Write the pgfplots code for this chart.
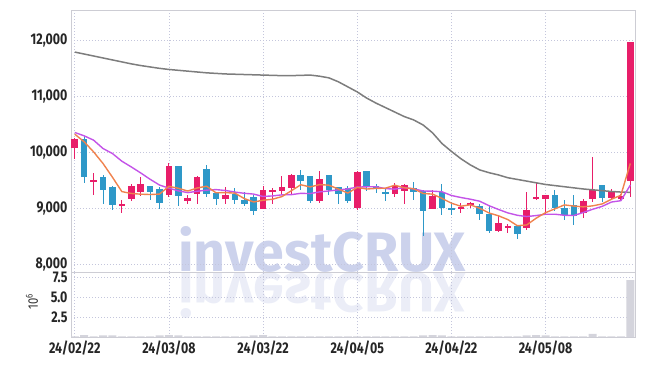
\documentclass[border=0pt]{standalone}
\usepackage{pgfplots}
\pgfplotsset{compat=1.18}
\usepackage{pgfplotstable}
\usepackage{fontspec}
\setmainfont{Fira Sans}[FakeStretch=0.8]
\newfontfamily\wmfont{Fira Sans}
\definecolor{upc}{RGB}{232,30,105}
\definecolor{dnc}{RGB}{46,152,200}
\definecolor{ma5c}{RGB}{240,130,78}
\definecolor{ma10c}{RGB}{196,84,232}
\definecolor{ma60c}{RGB}{125,125,125}
\definecolor{gridc}{RGB}{196,198,220}
\definecolor{borderc}{RGB}{205,205,212}
\definecolor{volc}{RGB}{212,212,220}
\definecolor{wmc}{RGB}{204,210,236}

\pgfplotstableread{
i o h l c
0 10082 10261 9880 10237
2 9485 9643 9238 9515
5 9050 9148 8929 9080
6 9166 9446 9130 9398
7 9297 9564 9220 9434
10 9250 9821 9207 9755
12 9136 9238 9077 9189
13 9268 9589 9089 9564
16 9171 9386 9077 9238
20 8993 9398 8993 9327
21 9291 9375 9077 9327
22 9314 9589 9255 9380
23 9368 9625 9268 9600
26 9136 9671 9107 9536
30 9005 9671 8970 9648
34 9268 9457 9207 9398
35 9314 9446 9077 9416
38 9000 9339 8990 9220
41 9000 9100 8920 9030
42 9065 9118 9018 9092
45 8600 8880 8582 8743
46 8660 8720 8564 8690
48 8661 9297 8625 8982
49 9180 9475 9161 9210
50 9171 9250 8880 9238
54 8921 9179 8832 9130
55 9179 9911 9118 9327
57 9196 9357 9179 9314
58 9170 9268 9161 9230
59 9493 11970 9207 11964
}\up

\pgfplotstableread{
i o h l c
1 10237 10296 9464 9564
3 9564 9595 9089 9327
4 9386 9400 8982 9059
8 9398 9400 9148 9297
9 9345 9380 8987 9100
11 9755 9760 9054 9225
14 9702 9773 9207 9261
15 9279 9285 9071 9171
17 9255 9375 9089 9148
18 9161 9297 9046 9077
19 9207 9238 8880 8957
24 9600 9696 9327 9493
25 9577 9580 9100 9130
27 9595 9600 9250 9327
28 9386 9390 9089 9255
29 9375 9398 9100 9130
31 9666 9670 9314 9386
32 9395 9446 9279 9370
33 9290 9357 9136 9262
36 9375 9475 9161 9297
37 9314 9340 8505 8957
39 9297 9434 8880 9018
40 9012 9118 8880 8985
43 9041 9077 8804 8911
44 8911 9059 8564 8600
47 8684 8700 8464 8541
51 9238 9339 8957 9018
52 9011 9148 8804 8893
53 9068 9250 8714 8875
56 9416 9420 9118 9189
}\down

\pgfplotstableread{
i ma5 ma10 ma60
0 10327 10357 11790
1 10190 10297 11755
2 10011 10220 11720
3 9804 10071 11685
4 9560 9982 11650
5 9303 9845 11615
6 9270 9743 11580
7 9257 9636 11550
8 9251 9523 11525
9 9259 9420 11500
10 9397 9365 11480
11 9362 9316 11465
12 9313 9285 11450
13 9367 9309 11435
14 9399 9329 11420
15 9282 9339 11410
16 9285 9323 11400
17 9276 9295 11395
18 9179 9273 11390
19 9118 9259 11385
20 9149 9216 11380
21 9167 9226 11375
22 9214 9245 11370
23 9318 9249 11370
24 9425 9272 11375
25 9386 9268 11380
26 9428 9298 11360
27 9417 9315 11330
28 9348 9333 11260
29 9276 9351 11170
30 9379 9383 11080
31 9349 9389 10970
32 9360 9389 10880
33 9364 9356 10800
34 9417 9347 10720
35 9371 9375 10640
36 9353 9351 10580
37 9269 9314 10490
38 9258 9311 10350
39 9182 9300 10160
40 9097 9234 10020
41 9042 9198 9890
42 9068 9168 9780
43 9006 9132 9690
44 8922 9052 9640
45 8872 8985 9600
46 8804 8923 9550
47 8695 8881 9520
48 8709 8858 9490
49 8829 8876 9460
50 8928 8900 9430
51 8996 8900 9410
52 9066 8881 9390
53 9045 8877 9370
54 9031 8930 9350
55 9049 8988 9335
56 9083 9039 9320
57 9167 9117 9305
58 9238 9141 9295
59 9805 9418 9290
}\ma

\pgfplotstableread{
i v
0 0.08
1 0.25
2 0.08
3 0.2
4 0.2
5 0.08
6 0.08
7 0.08
8 0.08
9 0.2
10 0.25
11 0.2
12 0.08
13 0.08
14 0.08
15 0.08
16 0.08
17 0.08
18 0.08
19 0.2
20 0.25
21 0.08
22 0.08
23 0.08
24 0.08
25 0.08
26 0.08
27 0.08
28 0.08
29 0.08
30 0.08
31 0.08
32 0.08
33 0.08
34 0.08
35 0.08
36 0.08
37 0.2
38 0.25
39 0.2
40 0.08
41 0.08
42 0.08
43 0.08
44 0.08
45 0.08
46 0.08
47 0.08
48 0.2
49 0.25
50 0.2
51 0.08
52 0.08
53 0.08
54 0.08
55 0.4
56 0.08
57 0.08
58 0.08
59 7.1
}\vol

\pgfplotsset{
  commonax/.style={
    scale only axis, width=564pt,
    xmin=-0.4, xmax=59.5,
    axis line style={draw=borderc, line width=0.8pt},
    xtick={0,10,20,30,40,50},
    grid=major,
    major grid style={draw=gridc, line width=0.7pt, dash pattern=on 1pt off 2pt},
    tick style={draw=none},
    ticklabel style={font=\bfseries\fontsize{15.5}{15.5}\selectfont, text=black!85},
  },
  wick/.style={draw=none, mark=none, forget plot,
    error bars/.cd, y dir=both, y explicit, error mark=none,
    error bar style={line width=1pt, draw=#1, solid}},
  body/.style={draw=none, mark=none, forget plot,
    error bars/.cd, y dir=both, y explicit, error mark=none,
    error bar style={line width=6.6pt, draw=#1, solid}},
}

\begin{document}
\begin{tikzpicture}
\path[use as bounding box] (-71pt,10pt) rectangle (574pt,-356pt);
\node[anchor=base west, inner sep=0, text=wmc] at (107pt,-261pt)
  {\wmfont\bfseries\fontsize{55.5}{55.5}\selectfont investCRUX};
\node[anchor=base west, inner sep=0, text=wmc, yscale=-1, opacity=0.4] at (107pt,-264pt)
  {\wmfont\bfseries\fontsize{55.5}{55.5}\selectfont investCRUX};

\begin{axis}[commonax,
  at={(0,0)}, anchor=north west, height=262pt,
  ymin=7870, ymax=12540,
  xticklabels={},
  ytick={8000,9000,10000,11000,12000},
  scaled y ticks=false,
  /pgf/number format/.cd, 1000 sep={,}, assume math mode=true,
]
\addplot[wick=upc] table[x=i, y expr={(\thisrow{h}+\thisrow{l})/2}, y error expr={(\thisrow{h}-\thisrow{l})/2}] {\up};
\addplot[body=upc] table[x=i, y expr={(\thisrow{o}+\thisrow{c})/2}, y error expr={(\thisrow{c}-\thisrow{o})/2}] {\up};
\addplot[wick=dnc] table[x=i, y expr={(\thisrow{h}+\thisrow{l})/2}, y error expr={(\thisrow{h}-\thisrow{l})/2}] {\down};
\addplot[body=dnc] table[x=i, y expr={(\thisrow{o}+\thisrow{c})/2}, y error expr={(\thisrow{o}-\thisrow{c})/2}] {\down};
\addplot[ma60c, line width=1.5pt, line join=round, mark=none] table[x=i, y=ma60] {\ma};
\addplot[ma10c, line width=1.4pt, line join=round, mark=none] table[x=i, y=ma10] {\ma};
\addplot[ma5c, line width=1.4pt, line join=round, mark=none] table[x=i, y=ma5] {\ma};
\end{axis}

\begin{axis}[commonax,
  at={(0,-262pt)}, anchor=north west, height=65pt,
  ymin=0, ymax=8.125,
  xticklabels={24/02/22,24/03/08,24/03/22,24/04/05,24/04/22,24/05/08},
  ytick={2.5,5,7.5},
  ylabel={10\textsuperscript{6}},
  ylabel style={at={(axis description cs:-0.069,0.55)}, anchor=center, font=\fontsize{14}{14}\selectfont, text=black!80},
  /pgf/number format/.cd, fixed, fixed zerofill, precision=1, assume math mode=true,
]
\addplot[ybar, bar width=8pt, fill=volc, draw=none] table[x=i, y=v] {\vol};
\end{axis}
\end{tikzpicture}
\end{document}
